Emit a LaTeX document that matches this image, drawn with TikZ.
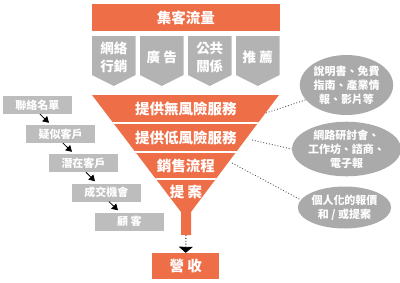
\documentclass[tikz,border=0pt]{standalone}
\usepackage{fontspec}
\setmainfont{Noto Sans CJK TC}
\usetikzlibrary{arrows.meta,shapes.geometric,calc}
\definecolor{org}{HTML}{EE6E48}
\definecolor{pgray}{HTML}{B3B3B3}
\definecolor{bgray}{HTML}{BDBDBD}
\definecolor{egray}{HTML}{AAAAAA}
\definecolor{dline}{HTML}{555555}
\begin{document}
\begin{tikzpicture}[x=1pt,y=-1pt,
  orgbox/.style={fill=org,text=white,inner sep=0,font=\bfseries\fontsize{14.5}{16}\selectfont},
  funtext/.style={text=white,inner sep=0,font=\bfseries\fontsize{14.5}{16}\selectfont},
  pentext/.style={text=white,inner sep=0,align=center,font=\bfseries\fontsize{13.5}{18}\selectfont},
  listbox/.style={fill=bgray,text=white,inner sep=0,minimum width=69pt,minimum height=18pt,font=\bfseries\fontsize{11}{13}\selectfont},
  bubble/.style={ellipse,fill=egray,text=white,inner sep=0,align=center,font=\bfseries\fontsize{11}{14}\selectfont},
  steparrow/.style={-{Triangle[length=6pt,width=7pt]},line width=0.8pt,black},
  dotline/.style={dline,dotted,line width=0.9pt}]
\useasboundingbox (0,0) rectangle (400,282);
% top bar
\node[orgbox,minimum width=188pt,minimum height=27pt] (top) at (186,17.5) {集客流量};
% pentagons
\foreach \t [count=\i from 0] in {{網絡\\行銷},{廣 告},{公共\\關係},{推 薦}}{
  \pgfmathsetmacro{\xa}{92+48*\i}
  \pgfmathsetmacro{\xb}{\xa+43.5}
  \pgfmathsetmacro{\xm}{\xa+21.75}
  \fill[pgray] (\xa,36) -- (\xb,36) -- (\xb,75) -- (\xm,86) -- (\xa,75) -- cycle;
  \node[pentext] (p\i) at (\xm,57.5) {\t};
}
% funnel
\fill[org] (92,95) -- (279,95) -- (191,212) -- (191,235) -- (181,235) -- (181,212) -- cycle;
\begin{scope}
  \clip (92,95) -- (279,95) -- (191,212) -- (191,235) -- (181,235) -- (181,212) -- cycle;
  \foreach \yy in {123,152,179} \draw[white,line width=1.3pt] (80,\yy) -- (290,\yy);
\end{scope}
\node[funtext] (r1) at (186,109) {提供無風險服務};
\node[funtext] (r2) at (186,137.5) {提供低風險服務};
\node[funtext] (r3) at (186,165.5) {銷售流程};
\node[funtext] (r4) at (186,192.5) {提 案};
\coordinate (stem) at (186,235);
\coordinate (c1) at (266,113);
\coordinate (c2) at (252,140);
\coordinate (c3) at (232,163);
% revenue
\node[orgbox,minimum width=67pt,minimum height=26pt] (rev) at (185.7,266) {營 收};
\draw[black,dotted,line width=0.9pt,-{Triangle[length=6pt,width=14pt]}] (stem) -- (rev.north);
% left list
\node[listbox] (b1) at (37.5,105) {聯絡名單};
\node[listbox] (b2) at (60.5,134) {疑似客戶};
\node[listbox] (b3) at (83.5,163) {潛在客戶};
\node[listbox] (b4) at (106.5,192.5) {成交機會};
\node[listbox] (b5) at (129.5,221.5) {顧 客};
\foreach \a/\b in {b1/b2,b2/b3,b3/b4,b4/b5}
  \draw[steparrow] ([xshift=2.5pt]\a.south) -- ([xshift=-11.5pt,yshift=2pt]\b.north);
% bubbles
\node[bubble,minimum width=87pt,minimum height=60pt] (e1) at (346.5,85) {說明書、免費\\指南、產業情\\報、影片等};
\node[bubble,minimum width=87pt,minimum height=53pt] (e2) at (346.5,149) {網路研討會、\\工作坊、諮商、\\電子報};
\node[bubble,minimum width=88pt,minimum height=42pt] (e3) at (344.5,207.5) {個人化的報價\\和 / 或提案};
\draw[dotline] (c1) -- (e1.200);
\draw[dotline] (c2) -- (e2.west);
\draw[dotline] (c3) -- (e3.170);
\end{tikzpicture}
\end{document}
